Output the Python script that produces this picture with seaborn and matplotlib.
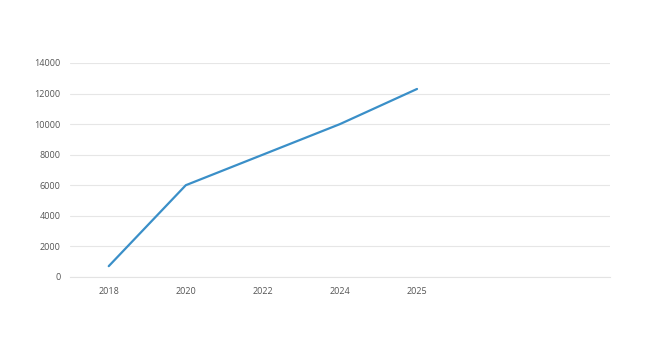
import matplotlib
matplotlib.use("Agg")
import matplotlib.pyplot as plt
import seaborn as sns
import pandas as pd

years = ["2018", "2020", "2022", "2024", "2025"]
values = [700, 6000, 8000, 10000, 12300]
extra_slots = ["", ""]  # empty category slots on the right of the axis

categories = years + extra_slots
df = pd.DataFrame({"pos": list(range(len(years))), "value": values})

sns.set_theme(style="white")
plt.rcParams["font.family"] = ["Open Sans", "DejaVu Sans"]

fig = plt.figure(figsize=(6.5, 3.5), dpi=100)
ax = fig.add_axes([0.108, 0.209, 0.830, 0.611])

sns.lineplot(data=df, x="pos", y="value", ax=ax, color="#3a8fc8", linewidth=1.6)

ax.set_xlim(-0.5, len(categories) - 0.5)
ax.set_ylim(0, 14000)
ax.set_yticks(range(0, 14001, 2000))
ax.set_xticks(range(len(categories)))
ax.set_xticklabels(categories)
ax.yaxis.grid(True, color="#e6e6e6", linewidth=0.8)
ax.xaxis.grid(False)
ax.set_axisbelow(True)
for s in ["top", "right", "left"]:
    ax.spines[s].set_visible(False)
ax.spines["bottom"].set_color("#e3e3e3")
ax.spines["bottom"].set_linewidth(0.8)
ax.tick_params(axis="both", length=0, labelsize=6.5, colors="#555555")
ax.tick_params(axis="x", pad=7)
ax.tick_params(axis="y", pad=7)
ax.set_xlabel("")
ax.set_ylabel("")

fig.savefig("out.png", dpi=100)
